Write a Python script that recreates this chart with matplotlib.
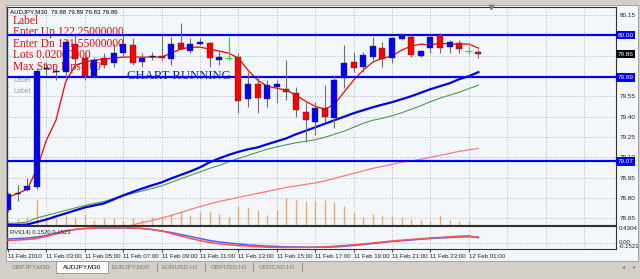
import matplotlib
matplotlib.use('Agg')
import matplotlib.pyplot as plt
import matplotlib.transforms as mtransforms
from matplotlib.patches import Rectangle
import numpy as np

W, H = 640, 279

# ---- data (AUDJPY M30, 11 Feb 01:00 .. 12 Feb 01:30) ----
tick_labels = ['11 Feb 2010', '11 Feb 03:00', '11 Feb 05:00', '11 Feb 07:00', '11 Feb 09:00',
               '11 Feb 11:00', '11 Feb 13:00', '11 Feb 15:00', '11 Feb 17:00', '11 Feb 19:00',
               '11 Feb 21:00', '11 Feb 23:00', '12 Feb 01:00']

opens = [78.71, 78.84, 78.86, 78.88, 79.76, 79.74, 79.73, 79.94, 79.83, 79.70,
         79.83, 79.795, 79.87, 79.93, 79.80, 79.85, 79.845, 79.825, 79.945, 79.885,
         79.94, 79.945, 79.815, 79.83, 79.84, 79.53, 79.64, 79.53, 79.62, 79.605,
         79.575, 79.435, 79.36, 79.465, 79.39, 79.685, 79.805, 79.765, 79.84, 79.905,
         79.83, 79.975, 79.985, 79.845, 79.905, 80.00, 79.915, 79.945, 79.885, 79.88]
highs = [78.84, 78.90, 78.95, 79.76, 79.80, 79.76, 79.965, 80.00, 79.87, 79.84,
         79.87, 79.94, 80.00, 79.98, 79.87, 79.88, 80.00, 79.99, 80.09, 79.98,
         79.98, 79.95, 79.89, 79.99, 79.87, 79.73, 79.71, 79.67, 79.67, 79.815,
         79.62, 79.505, 79.505, 79.635, 79.705, 79.93, 79.875, 79.875, 79.99, 79.95,
         79.99, 80.015, 80.00, 79.89, 80.00, 80.015, 79.965, 79.965, 79.92, 79.89]
lows = [78.70, 78.78, 78.855, 78.87, 79.71, 79.67, 79.67, 79.76, 79.67, 79.69,
        79.76, 79.765, 79.85, 79.78, 79.765, 79.82, 79.82, 79.78, 79.89, 79.87,
        79.93, 79.765, 79.78, 79.815, 79.43, 79.47, 79.425, 79.47, 79.50, 79.52,
        79.395, 79.21, 79.265, 79.36, 79.32, 79.61, 79.73, 79.73, 79.815, 79.765,
        79.795, 79.965, 79.84, 79.84, 79.87, 79.87, 79.87, 79.87, 79.86, 79.83]
closes = [78.83, 78.84, 78.89, 79.74, 79.76, 79.74, 79.95, 79.825, 79.70, 79.815,
          79.78, 79.87, 79.94, 79.795, 79.83, 79.85, 79.83, 79.935, 79.90, 79.935,
          79.95, 79.83, 79.84, 79.83, 79.515, 79.645, 79.535, 79.635, 79.64, 79.58,
          79.45, 79.375, 79.465, 79.395, 79.67, 79.795, 79.76, 79.855, 79.92, 79.825,
          79.98, 80.00, 79.855, 79.885, 79.985, 79.905, 79.95, 79.90, 79.885, 79.86]
cross_bars = [23, 48]

volumes = [100, 120, 155, 500, 155, 140, 175, 155, 220, 105,
           135, 135, 85, 135, 105, 155, 175, 220, 285, 200,
           235, 285, 220, 155, 375, 355, 305, 200, 305, 535,
           505, 485, 485, 505, 455, 375, 240, 155, 220, 200,
           175, 155, 120, 105, 85, 200, 105, 85, 85, 20]

ma_fast = [78.805, 78.834, 78.864, 79.012, 79.226, 79.374, 79.655, 79.780, 79.803, 79.817,
           79.825, 79.832, 79.840, 79.840, 79.840, 79.840, 79.840, 79.869, 79.899, 79.913,
           79.913, 79.899, 79.884, 79.869, 79.832, 79.743, 79.670, 79.625, 79.610, 79.596,
           79.559, 79.514, 79.477, 79.455, 79.492, 79.581, 79.670, 79.743, 79.803, 79.832,
           79.847, 79.891, 79.921, 79.936, 79.928, 79.943, 79.936, 79.936, 79.936, 79.906]
ma_mid = [78.602, 78.602, 78.605, 78.624, 78.642, 78.665, 78.687, 78.709, 78.731, 78.746,
          78.761, 78.790, 78.820, 78.846, 78.871, 78.894, 78.916, 78.945, 78.971, 78.997,
          79.027, 79.064, 79.093, 79.119, 79.141, 79.160, 79.174, 79.197, 79.219, 79.241,
          79.271, 79.296, 79.322, 79.348, 79.374, 79.400, 79.426, 79.448, 79.470, 79.489,
          79.507, 79.529, 79.551, 79.577, 79.603, 79.625, 79.647, 79.677, 79.699, 79.729]
ma_mid2 = [78.613, 78.616, 78.624, 78.653, 78.672, 78.690, 78.709, 78.727, 78.746, 78.761,
           78.775, 78.798, 78.816, 78.835, 78.853, 78.871, 78.890, 78.916, 78.942, 78.968,
           78.993, 79.019, 79.041, 79.067, 79.093, 79.115, 79.138, 79.160, 79.178, 79.193,
           79.208, 79.219, 79.230, 79.248, 79.271, 79.293, 79.322, 79.352, 79.374, 79.389,
           79.407, 79.429, 79.455, 79.481, 79.511, 79.537, 79.559, 79.581, 79.607, 79.633]
ma_slow_start = 12
ma_slow = [78.575, 78.602, 78.620, 78.635, 78.653, 78.672, 78.694, 78.716, 78.738, 78.757,
           78.775, 78.790, 78.805, 78.820, 78.835, 78.849, 78.864, 78.879, 78.890, 78.901,
           78.912, 78.927, 78.945, 78.964, 78.982, 79.001, 79.019, 79.034, 79.049, 79.064,
           79.075, 79.086, 79.101, 79.115, 79.130, 79.145, 79.156, 79.167]

rvi_main = [0.101, 0.114, 0.127, 0.152, 0.190, 0.253, 0.304, 0.342, 0.367, 0.380,
            0.385, 0.385, 0.385, 0.380, 0.367, 0.342, 0.304, 0.266, 0.215, 0.165,
            0.114, 0.063, 0.025, 0.000, -0.026, -0.046, -0.063, -0.076, -0.089, -0.096,
            -0.101, -0.107, -0.109, -0.109, -0.101, -0.084, -0.063, -0.038, -0.013, 0.013,
            0.038, 0.056, 0.076, 0.096, 0.114, 0.127, 0.139, 0.152, 0.157, 0.152]
rvi_signal = [0.063, 0.076, 0.089, 0.114, 0.165, 0.228, 0.304, 0.342, 0.367, 0.380,
              0.385, 0.385, 0.385, 0.380, 0.367, 0.342, 0.304, 0.241, 0.177, 0.114,
              0.063, 0.013, -0.020, -0.046, -0.063, -0.081, -0.096, -0.107, -0.112, -0.114,
              -0.114, -0.112, -0.107, -0.096, -0.081, -0.063, -0.046, -0.026, 0.000, 0.025,
              0.051, 0.071, 0.089, 0.106, 0.127, 0.142, 0.157, 0.172, 0.182, 0.132]

price_ticks = [78.65, 78.80, 78.95, 79.10, 79.25, 79.40, 79.55, 79.70, 79.85, 80.00, 80.15]
hidden_ticks = [79.70, 79.85, 80.00]   # covered by the level / price boxes
level_lines = [80.00, 79.69, 79.07]
last_price = 79.86

tabs = ['GBPJPY,M30', 'AUDJPY,M30', 'EURJPY,M30', 'EURUSD,H1', 'GBPUSD,H1', 'USDCAD,H1']
active_tab = 1

# ---- figure ----
fig = plt.figure(figsize=(W / 100, H / 100), dpi=100, facecolor='#d4d0c8')
ui_font = 'Liberation Sans'
obj_font = 'Liberation Serif'


def frect(x0, y0, x1, y1):
    return [x0 / W, 1 - y1 / H, (x1 - x0) / W, (y1 - y0) / H]


tf = fig.transFigure
# chart window background
fig.patches.append(Rectangle((6 / W, 1 - 261 / H), 632 / W, 256 / H, transform=tf,
                             fc='#f3f7fc', ec='#9a9a9a', lw=0.6, zorder=-10))

ax_vol = fig.add_axes(frect(7, 7, 616, 225))
ax = fig.add_axes(frect(7, 7, 616, 225), sharex=ax_vol)
ax_rvi = fig.add_axes(frect(7, 226, 616, 249), sharex=ax_vol)

n = len(closes)
xs = np.arange(n)
xmin, xmax = -0.1, 63.33
grid_x = np.arange(0, 61, 4)
dot = (0, (1, 2))
gcol = '#a6a6a6'

# volume layer underneath
ax_vol.set_facecolor('#f3f7fc')
ax_vol.vlines(xs, 0, volumes, color='#f6a95a', lw=1.0)
ax_vol.set_ylim(0, 4360)
ax_vol.axis('off')

# main price panel
ax.patch.set_visible(False)
ax.set_xlim(xmin, xmax)
ax.set_ylim(78.6016, 80.2092)
for gx in grid_x:
    ax.axvline(gx, color=gcol, lw=0.6, ls=dot, zorder=1)
for py in price_ticks:
    ax.axhline(py, color=gcol, lw=0.6, ls=dot, zorder=1)

ax.plot(xs[ma_slow_start:], ma_slow, color='#ff7878', lw=0.9, zorder=3)
ax.plot(xs, ma_mid2, color='#4f9a4f', lw=0.8, zorder=3)
ax.plot(xs, ma_mid, color='#0000ee', lw=1.6, zorder=3)
ax.plot(xs, ma_fast, color='#ff0000', lw=0.9, zorder=3)

for lvl in level_lines:
    ax.axhline(lvl, color='#0000ff', lw=1.6, zorder=3)

for i in range(n):
    o, h_, l_, c = opens[i], highs[i], lows[i], closes[i]
    if i in cross_bars:
        ax.vlines(i, l_, h_, color='#22dd22', lw=0.8, zorder=6)
        ax.hlines(c, i - 0.35, i + 0.35, color='#22dd22', lw=0.8, zorder=6)
        continue
    ax.vlines(i, l_, h_, color='#6e6e6e', lw=0.8, zorder=5)
    if c == o:
        ax.hlines(c, i - 0.3, i + 0.3, color='#101060', lw=1.0, zorder=6)
    else:
        col = '#0000ff' if c > o else '#ff0000'
        ax.bar(i, c - o, bottom=o, width=0.62, color=col, edgecolor='#303030', lw=0.3, zorder=6)

ax.set_yticks(price_ticks)
ax.set_yticklabels(['' if p in hidden_ticks else f'{p:.2f}' for p in price_ticks])
ax.yaxis.tick_right()
ax.tick_params(axis='y', length=0, pad=2.5, labelsize=4.6, labelcolor='#202020')
ax.tick_params(axis='x', length=0, labelbottom=False)
for lab in ax.get_yticklabels():
    lab.set_fontfamily(ui_font)
for s in ax.spines.values():
    s.set_color('#303030')
    s.set_linewidth(0.8)

trans = mtransforms.blended_transform_factory(ax.transAxes, ax.transData)
for lvl in level_lines:
    ax.text(1.0025, lvl, f'{lvl:.2f}', transform=trans, ha='left', va='center', fontsize=4.6,
            family=ui_font, color='white', clip_on=False, zorder=10,
            bbox=dict(boxstyle='square,pad=0.25', fc='#0000ff', ec='none'))
ax.text(1.0025, last_price, f'{last_price:.2f}', transform=trans, ha='left', va='center', fontsize=4.6,
        family=ui_font, color='white', clip_on=False, zorder=10,
        bbox=dict(boxstyle='square,pad=0.25', fc='#000000', ec='none'))

# chart shift marker at the top
ax.plot([0.794], [1.0], marker='v', ms=3.2, color='#808080', transform=ax.transAxes, clip_on=False, zorder=10)

# text objects (drawn under the candles)
ax.text(10 / W, 1 - 12 / H, 'AUDJPY,M30  79.88 79.89 79.83 79.86', transform=tf, fontsize=4.4,
        family=ui_font, color='#000000', va='center', ha='left', zorder=2)
red_lines = ['Label', 'Enter Up 122.25000000', 'Enter Dn 121.55000000', 'Lots 0.02000000',
             'Max Stop Pips 100']
for k, t in enumerate(red_lines):
    ax.text(13 / W, 1 - (20.5 + 11.6 * k) / H, t, transform=tf, fontsize=8.3, family=obj_font,
            color='#ff0000', va='center', ha='left', zorder=2)
for k in range(2):
    ax.text(13 / W, 1 - (80 + 11.5 * k) / H, 'Label', transform=tf, fontsize=5, family=ui_font,
            color='#a0a0a0', va='center', ha='left', zorder=2)
ax.text(127 / W, 1 - 76 / H, 'CHART RUNNING', transform=tf, fontsize=9.2, family=obj_font,
        color='#1010ff', va='center', ha='left', zorder=2)

# RVI panel
ax_rvi.set_facecolor('#f3f7fc')
ax_rvi.set_ylim(-0.1521, 0.4304)
for gx in grid_x:
    ax_rvi.axvline(gx, color=gcol, lw=0.6, ls=dot, zorder=1)
ax_rvi.axhline(0.0, color=gcol, lw=0.6, ls=dot, zorder=1)
ax_rvi.plot(xs, rvi_main, color='#5a5aff', lw=1.1, zorder=3)
ax_rvi.plot(xs, rvi_signal, color='#ff5050', lw=1.1, zorder=3)
ax_rvi.set_yticks([])
ax_rvi.set_xticks(xs[::4][:len(tick_labels)])
ax_rvi.set_xticklabels(tick_labels, ha='left', fontsize=4.4, family=ui_font, color='#202020')
ax_rvi.tick_params(axis='x', length=2, pad=1.5, width=0.5)
for s in ax_rvi.spines.values():
    s.set_color('#303030')
    s.set_linewidth(0.8)
ax_rvi.text(0.005, 0.72, 'RVI(14) 0.1520 0.1523', transform=ax_rvi.transAxes, fontsize=4.3,
            family=ui_font, color='#202020', va='center', ha='left', zorder=4)
rtrans = mtransforms.blended_transform_factory(ax_rvi.transAxes, ax_rvi.transData)
ax_rvi.text(1.004, 0.4304, '0.4304', transform=rtrans, fontsize=4.4, family=ui_font, va='top',
            ha='left', color='#202020', clip_on=False)
ax_rvi.text(1.004, 0.0, '0.00', transform=rtrans, fontsize=4.4, family=ui_font, va='center',
            ha='left', color='#202020', clip_on=False)
ax_rvi.text(1.004, -0.1521, '-0.1521', transform=rtrans, fontsize=4.4, family=ui_font, va='bottom',
            ha='left', color='#202020', clip_on=False)

# tab strip at the bottom
seps = [157, 205, 253, 302]
centers = [31, 82, 131, 180, 229, 277]
fig.patches.append(Rectangle((56 / W, 1 - 273 / H), 52 / W, 12 / H, transform=tf,
                             fc='#ffffff', ec='#808080', lw=0.5, zorder=1))
for k, t in enumerate(tabs):
    fig.text(centers[k] / W, 1 - 267 / H, t, fontsize=4.6, family=ui_font, ha='center', va='center',
             color='#000000' if k == active_tab else '#7a7a7a')
for sx in seps:
    fig.add_artist(plt.Line2D([sx / W, sx / W], [1 - 271 / H, 1 - 263 / H], transform=tf,
                              color='#8a8a8a', lw=0.6))
fig.text(624 / W, 1 - 267 / H, '\u25c2', fontsize=4.5, color='#808080', ha='center', va='center')
fig.text(635 / W, 1 - 267 / H, '\u25b8', fontsize=4.5, color='#808080', ha='center', va='center')

fig.savefig('out.png', dpi=100, facecolor=fig.get_facecolor())
